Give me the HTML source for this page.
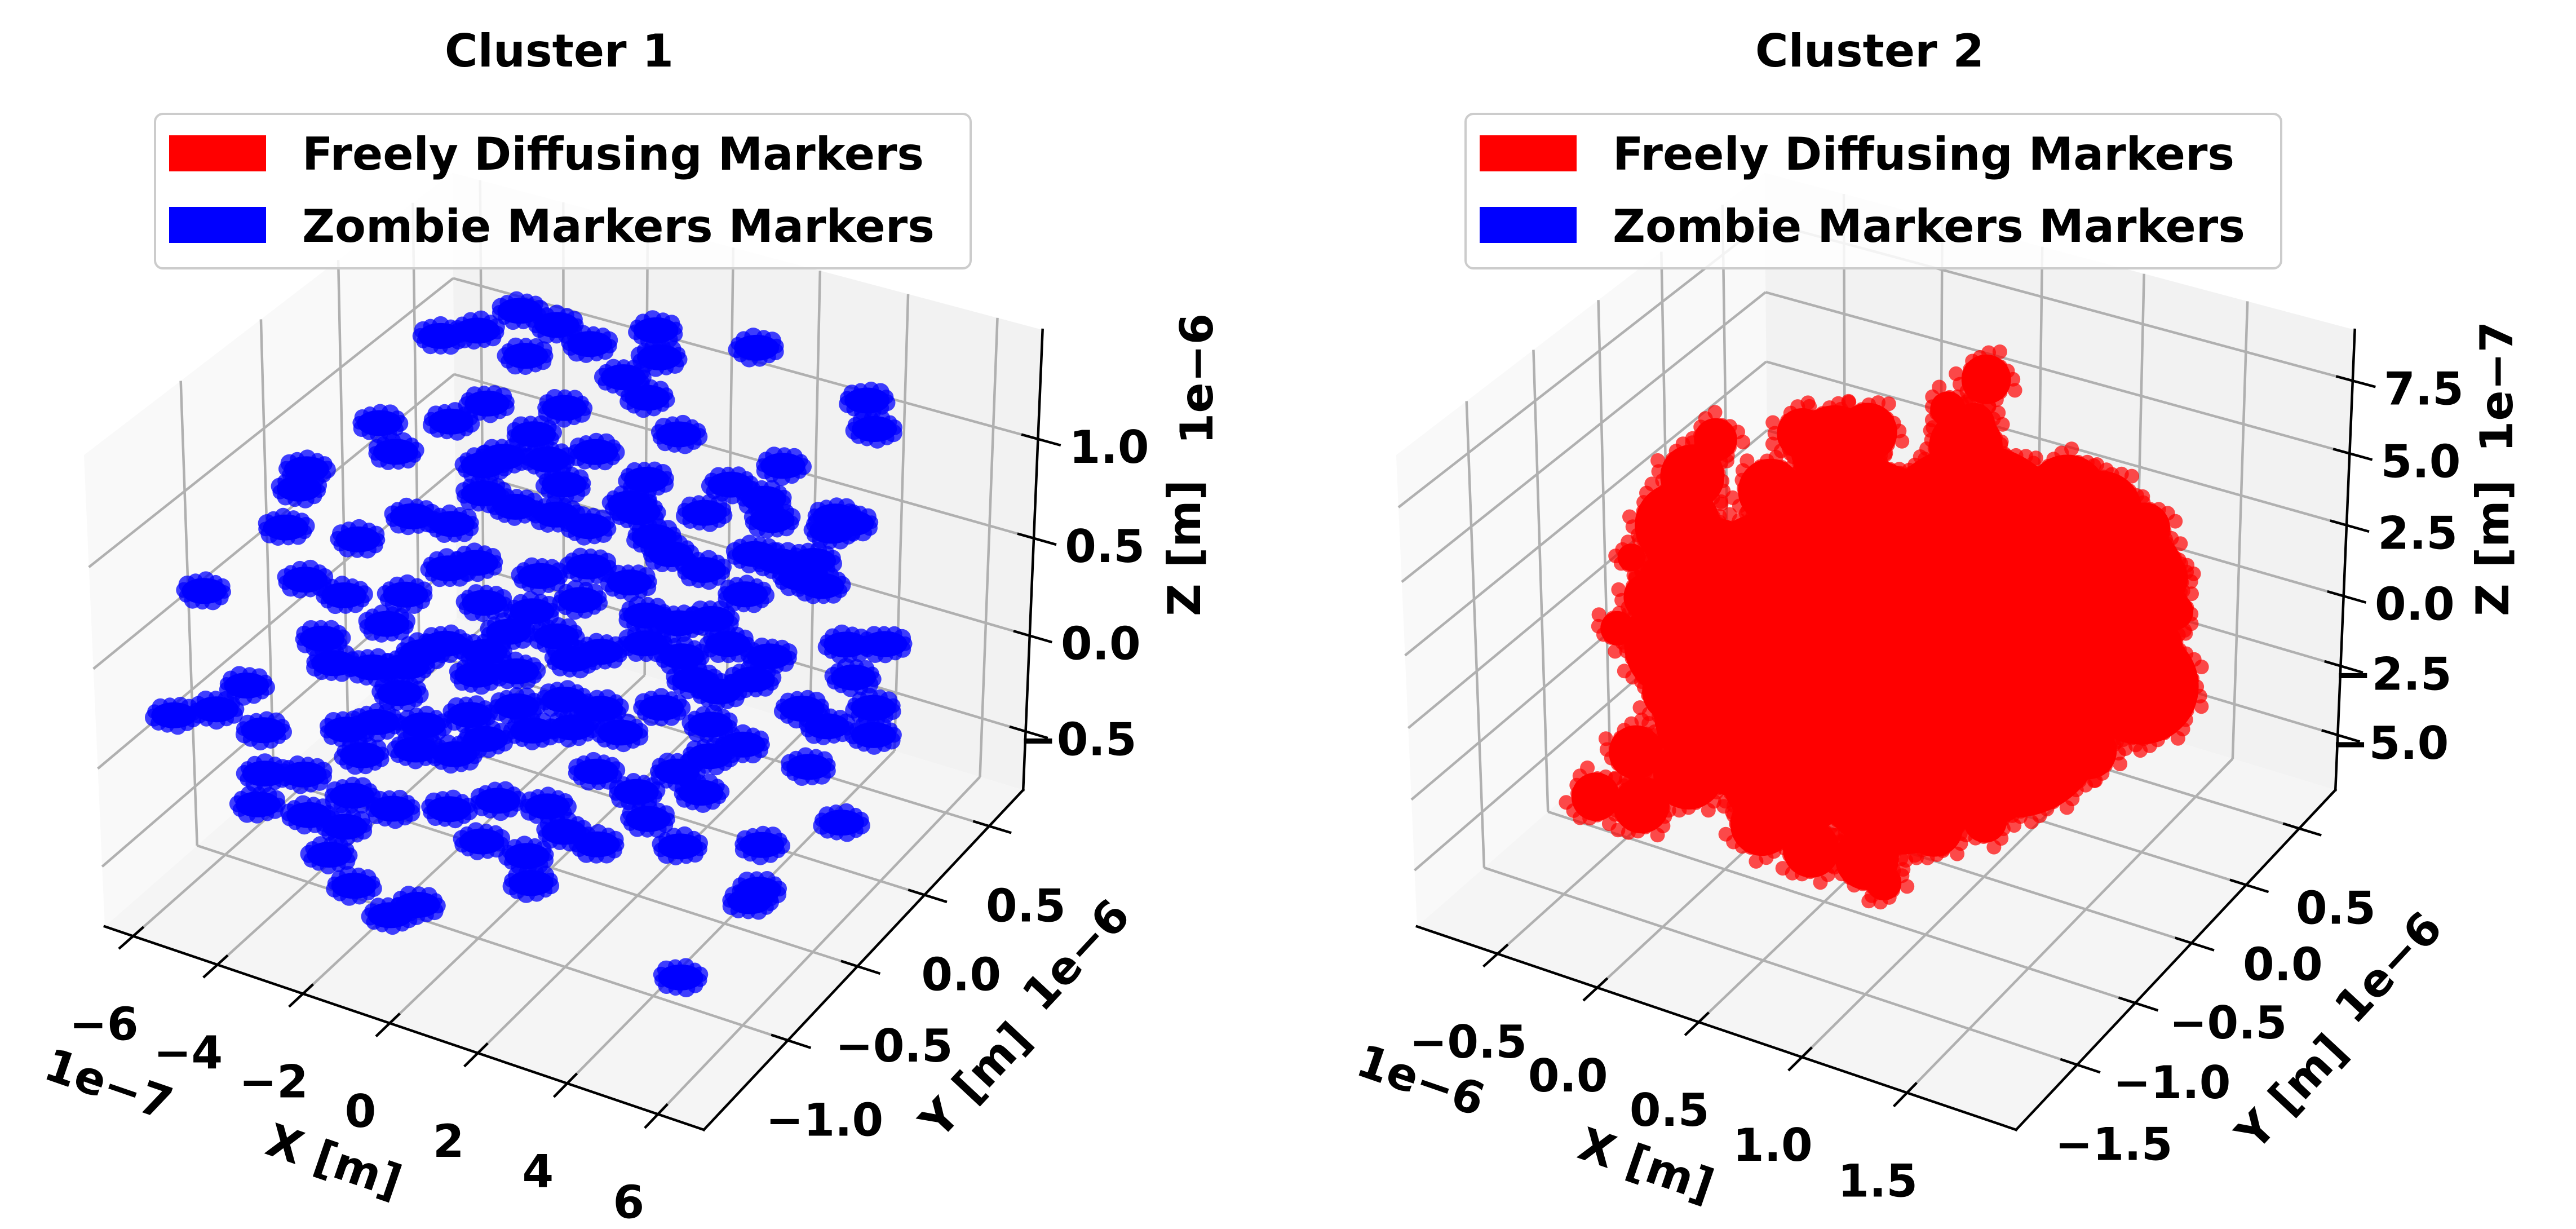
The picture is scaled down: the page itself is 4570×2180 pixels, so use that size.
<!DOCTYPE html>
<html><head><meta charset="utf-8"><style>
html,body{margin:0;padding:0;background:#fff;}
svg{display:block;}
text{font-family:"DejaVu Sans","Liberation Sans",sans-serif;font-weight:bold;font-size:80px;fill:#000;}
</style></head><body>
<svg id="chart" width="4570" height="2180" viewBox="0 0 4570 2180">
<rect x="0" y="0" width="4570" height="2180" fill="#fff"/>
<g id="panel1"></g>
<g id="panel2"></g>
<text x="992" y="118" text-anchor="middle">Cluster 1</text>
<text x="3317" y="118" text-anchor="middle">Cluster 2</text>
<g>
<rect x="275" y="202" width="1447" height="274" rx="14" fill="#fff" fill-opacity="0.85" stroke="#cccccc" stroke-width="4"/>
<rect x="300" y="240" width="172" height="64" fill="#ff0000"/>
<rect x="300" y="367" width="172" height="64" fill="#0000ff"/>
<text x="536" y="301">Freely Diffusing Markers</text>
<text x="536" y="429">Zombie Markers Markers</text>
</g>
<g>
<rect x="2600" y="202" width="1447" height="274" rx="14" fill="#fff" fill-opacity="0.85" stroke="#cccccc" stroke-width="4"/>
<rect x="2625" y="240" width="172" height="64" fill="#ff0000"/>
<rect x="2625" y="367" width="172" height="64" fill="#0000ff"/>
<text x="2861" y="301">Freely Diffusing Markers</text>
<text x="2861" y="429">Zombie Markers Markers</text>
</g>
<text transform="translate(593,2058) rotate(19)" text-anchor="middle" dy="29">X [m]</text>
<text transform="translate(193,1922) rotate(19)" text-anchor="middle" dy="29">1e−7</text>
<text transform="translate(1729,1915) rotate(-47)" text-anchor="middle" dy="29">Y [m]</text>
<text transform="translate(1908,1693) rotate(-47)" text-anchor="middle" dy="29">1e−6</text>
<text transform="translate(2100,972) rotate(-90)" text-anchor="middle" dy="29">Z [m]</text>
<text transform="translate(2122,672) rotate(-90)" text-anchor="middle" dy="29">1e−6</text>
<text transform="translate(2921,2065) rotate(19)" text-anchor="middle" dy="29">X [m]</text>
<text transform="translate(2521,1915) rotate(19)" text-anchor="middle" dy="29">1e−6</text>
<text transform="translate(4064,1936) rotate(-47)" text-anchor="middle" dy="29">Y [m]</text>
<text transform="translate(4236,1715) rotate(-47)" text-anchor="middle" dy="29">1e−6</text>
<text transform="translate(4421,972) rotate(-90)" text-anchor="middle" dy="29">Z [m]</text>
<text transform="translate(4428,686) rotate(-90)" text-anchor="middle" dy="29">1e−7</text>
</svg>
<script>
// ---- Cluster 1 data (x in 1e-7 m, y and z in 1e-6 m) ----
const c1X = [-5.69,-4.8,-3.78,-2.91,-2.13,-0.59,-3.65,-0.5,1.72,-1.34,-0.78,-4.58,-2.73,4.23,4.41,-4.3,-2.63,-3.47,-1.99,-0.04,-3.93,-6.06,-6.25,-6.6,-4.86,-3.56,-2.63,-1.89,-0.41,-0.04,-1.15,0.52,1.82,1.63,2.0,1.17,2.37,3.11,4.41,3.58,5.52,4.78,4.04,3.11,5.71,-5.51,-6.16,-5.23,-3.75,-4.21,-2.73,-1.89,-1.33,-0.78,0.52,0.33,1.45,1.82,2.56,3.3,-0.22,-2.82,-5.78,-5.51,-4.58,-3.75,-3.93,-2.08,-1.15,0.15,0.8,1.82,2.65,2.93,3.67,4.6,6.27,5.36,6.45,6.9,5.17,-4.58,-6.34,-5.32,-4.21,-5.23,-4.49,-3.37,-2.26,-1.15,-0.04,0.8,2.19,3.3,4.23,4.04,5.9,5.52,-4.21,-3.28,-4.86,-3.56,-2.63,-1.89,-0.78,0.15,1.26,2.56,3.3,-1.24,-2.17,0.06,1.17,2.28,2.65,1.63,1.91,2.65,0.7,3.39,0.8,1.82,-4.39,-3.19,-2.35,-2.73,-2.17,-1.33,-0.69,1.91,6.92,4.5,6.27,3.11,6.73,5.25,2.37,5.9,-1.89,-0.22,1.45,4.6,3.95,5.25,4.23,-2.08,-0.59,-3.37,-1.89,3.49,5.34,-1.43];
const c1Y = [0.4,0.4,0.4,0.4,0.4,0.4,0.4,0.4,0.4,0.4,0.4,0.4,0.4,0.4,0.4,-0.4,-0.4,0.4,0.4,0.4,-0.4,-0.4,-0.4,-0.4,-0.4,-0.4,-0.4,-0.4,-0.4,-0.4,-0.4,-0.4,-0.4,-0.4,-0.4,0.4,0.4,-0.4,-0.4,0.4,-0.4,-0.4,-0.4,-0.4,-0.4,-1.2,-0.4,-0.4,-0.4,-0.4,-0.4,-0.4,-0.4,-0.4,-0.4,-0.4,-0.4,-0.4,-0.4,-0.4,-0.4,-0.4,-0.4,-0.4,-0.4,-0.4,-0.4,-0.4,-0.4,-0.4,-0.4,-0.4,-0.4,-0.4,-0.4,-0.4,-0.4,0.2,-0.4,-0.4,0.2,-1.2,-1.2,-1.2,-1.2,-0.4,-0.4,-0.4,-0.4,-0.4,-0.4,-0.4,-0.4,-0.4,-0.4,-0.4,-0.4,-0.4,-1.2,-1.2,-0.4,-0.4,-0.4,-0.4,-0.4,-0.4,-0.4,-0.4,-0.4,-1.2,-1.2,-1.2,-1.2,-1.2,-1.2,-0.4,-0.4,-0.4,-0.4,-1.2,-1.2,-1.2,-1.2,-1.2,-1.2,-1.2,-1.2,-1.2,-1.2,-1.2,-1.2,-0.4,-0.4,-0.4,-1.2,-1.2,-0.4,-0.4,-0.4,-0.4,-0.4,-0.4,0.4,-0.4,-0.4,-0.4,-0.4,-0.4,-0.4,-0.4,-0.4,-0.4];
const c1Z = [0.98,1.06,1.22,1.2,1.15,1.31,1.0,1.18,1.36,1.03,0.96,0.7,0.79,1.25,1.12,1.11,1.22,0.61,0.61,0.82,0.99,0.77,0.66,0.44,0.49,0.69,0.71,1.05,1.17,1.07,0.89,0.9,1.21,1.04,0.94,0.64,0.81,1.13,1.28,0.63,1.05,1.0,0.79,0.85,0.94,0.71,0.2,0.18,0.28,0.1,0.48,0.36,0.25,0.39,0.7,0.52,0.68,0.54,0.55,0.62,0.3,0.09,-0.08,-0.19,-0.15,-0.09,-0.24,-0.02,0.06,0.21,0.29,0.4,0.39,0.29,0.52,0.52,0.69,0.23,0.54,0.42,-0.25,0.3,0.03,0.13,0.1,-0.52,-0.43,-0.37,-0.24,-0.12,-0.01,0.0,0.1,0.09,0.38,0.04,0.26,0.03,-0.12,-0.06,-0.63,-0.51,-0.47,-0.34,-0.22,-0.14,-0.09,-0.2,-0.07,-0.09,-0.09,0.0,0.12,0.17,0.07,-0.37,-0.49,-0.58,-0.33,0.06,-0.11,-0.11,-0.29,-0.26,-0.26,-0.43,-0.55,-0.64,-0.54,-0.24,0.09,-0.44,-0.2,-0.27,0.02,-0.47,0.88,1.22,0.91,0.91,1.07,1.19,0.62,0.95,1.0,0.55,0.58,0.01,0.11,0.27,0.31,1.12];
// ---- Cluster 2 data (x, y in 1e-6 m; z and radius in 1e-7 m) ----
const c2X = [0.59,0.07,1.10,0.39,0.98,-0.16,1.18,0.63,0.07,1.58,1.70,1.78,-0.32,-0.48,-0.48,-0.40,-0.28,0.47,0.41,0.28,0.94,0.31,0.15,0.47,-0.01,1.42,1.58,1.78,1.85,-0.72,-0.64,-0.80,-0.52,-0.72,-0.39,-0.16,0.08,-0.52,0.44,0.68,0.95,1.03,1.27,1.10,1.34,1.54,1.74,1.85,1.93,1.51];
const c2Y = [-0.58,-0.58,-0.58,-0.58,-0.58,-0.58,-0.58,-0.58,-0.58,-0.58,-0.58,-0.58,-0.58,-0.58,-0.58,-0.58,-0.58,0.42,0.42,0.42,-0.58,-0.58,-0.58,-0.58,-0.58,-0.58,-0.58,-0.58,-0.58,-0.58,-0.58,-0.58,-0.58,-0.58,-1.4,-1.4,-1.4,-0.58,-1.4,-1.4,-1.4,-1.4,-1.4,-0.58,-0.58,-0.58,-0.58,-0.58,-0.58,-1.4];
const c2Z = [0.66,0.11,2.32,3.04,4.87,-3.2,-0.88,-3.48,-4.95,2.78,5.27,1.79,0.95,-1.63,2.58,4.44,5.95,6.03,4.35,4.62,8.16,6.8,7.02,7.7,4.73,7.49,7.27,7.13,5.61,0.95,-0.29,-1.75,-3.41,-6.08,-3.67,-3.45,-1.81,0.52,-2.74,-3.07,-2.75,-3.42,-0.96,-3.3,-1.67,-0.97,0.86,3.37,4.66,-0.17];
const c2R = [5.7,4.2,4.2,3.7,3.45,3.2,3.2,3.2,2.47,2.47,1.98,1.98,2.23,1.98,1.49,1.11,0.74,0.86,0.74,0.62,1.23,1.49,0.86,0.99,1.11,1.36,1.36,0.86,0.99,0.49,0.86,0.62,1.11,0.99,0.86,0.99,1.23,1.11,1.11,0.99,1.11,0.62,0.99,1.23,0.99,0.99,1.11,0.86,0.62,0.74];
// ---- Tick values ----
const xTicks1 = [-6,-4,-2,0,2,4,6];
const yTicks1 = [-1.0,-0.5,0.0,0.5];
const zTicks1 = [-0.5,0.0,0.5,1.0];
const xTicks2 = [-0.5,0.0,0.5,1.0,1.5];
const yTicks2 = [-1.5,-1.0,-0.5,0.0,0.5];
const zTicks2 = [-5.0,-2.5,0.0,2.5,5.0,7.5];

const svg = document.getElementById('chart');
const NSU = svg.namespaceURI;
function mk(tag, attrs, parent){
  const el = document.createElementNS(NSU, tag);
  for (const k in attrs) el.setAttribute(k, attrs[k]);
  parent.appendChild(el);
  return el;
}
function fmt(v, d){ const s = v.toFixed(d); return s.replace('-', '\u2212'); }

function makeProj(P){
  const a = 0.5717, h = 0.4287;
  return function(x, y, z){
    const qx = -a + 2*a*(x - P.xlim[0])/(P.xlim[1]-P.xlim[0]);
    const qy = -a + 2*a*(y - P.ylim[0])/(P.ylim[1]-P.ylim[0]);
    const qz = -h + 2*h*(z - P.zlim[0])/(P.zlim[1]-P.zlim[0]);
    const xv = 0.8660*qx + 0.5*qy;
    const yv = -0.25*qx + 0.4330*qy + 0.8660*qz;
    const zv = -10 + 0.4330*qx - 0.75*qy + 0.5*qz;
    return [P.cx + 10652*xv/(-zv), 1116 - 11119*yv/(-zv)];
  };
}
function pts(list){ return list.map(p => p[0].toFixed(1)+','+p[1].toFixed(1)).join(' '); }

function drawAxes(P, g, xT, yT, zT, xd, yd, zd){
  const pr = makeProj(P);
  const [x0,x1] = P.xlim, [y0,y1] = P.ylim, [z0,z1] = P.zlim;
  const pl = mk('polygon', {points: pts([pr(x0,y0,z0),pr(x0,y1,z0),pr(x0,y1,z1),pr(x0,y0,z1)]), fill:'#f9f9f9'}, g);
  
  
  const pb = mk('polygon', {points: pts([pr(x0,y1,z0),pr(x1,y1,z0),pr(x1,y1,z1),pr(x0,y1,z1)]), fill:'#f2f2f2'}, g);
  
  
  const pf = mk('polygon', {points: pts([pr(x0,y0,z0),pr(x1,y0,z0),pr(x1,y1,z0),pr(x0,y1,z0)]), fill:'#f5f5f5'}, g);
  
  
  const grid = mk('g', {stroke:'#b0b0b0', 'stroke-width':4.5, fill:'none'}, g);
  
  
  function seg(p, q, parent){ return mk('line', {x1:p[0],y1:p[1],x2:q[0],y2:q[1]}, parent); }
  xT.forEach(v => {
    const l1 = seg(pr(v,y1,z0), pr(v,y1,z1), grid);
    
    
    const l2 = seg(pr(v,y0,z0), pr(v,y1,z0), grid);
    
    
  });
  yT.forEach(v => {
    const l1 = seg(pr(x0,v,z0), pr(x0,v,z1), grid);
    
    
    const l2 = seg(pr(x0,v,z0), pr(x1,v,z0), grid);
    
    
  });
  zT.forEach(v => {
    const l1 = seg(pr(x0,y0,v), pr(x0,y1,v), grid);
    
    
    const l2 = seg(pr(x0,y1,v), pr(x1,y1,v), grid);
    
    
  });
  const ax = mk('g', {stroke:'#000', 'stroke-width':4.5, fill:'none', 'stroke-linecap':'square'}, g);
  
  
  const xl = seg(pr(x0,y0,z0), pr(x1,y0,z0), ax);
  
  
  const yl = seg(pr(x1,y0,z0), pr(x1,y1,z0), ax);
  
  
  const zl = seg(pr(x1,y1,z0), pr(x1,y1,z1), ax);
  
  
  const xr = x1-x0, yr = y1-y0;
  const labs = mk('g', {}, g);
  
  
  xT.forEach(v => {
    const t = seg(pr(v,y0+0.025*yr,z0), pr(v,y0-0.035*yr,z0), ax);
    
    
    const p = pr(v,y0,z0);
    const tx = mk('text', {x:(p[0]-52).toFixed(1), y:(p[1]+184).toFixed(1), 'text-anchor':'middle'}, labs);
    tx.textContent = fmt(v, xd);
    
    
  });
  yT.forEach(v => {
    const t = seg(pr(x1-0.025*xr,v,z0), pr(x1+0.035*xr,v,z0), ax);
    
    
    const p = pr(x1,v,z0);
    const tx = mk('text', {x:(p[0]+65).toFixed(1), y:(p[1]+169).toFixed(1), 'text-anchor':'middle'}, labs);
    tx.textContent = fmt(v, yd);
    
    
  });
  zT.forEach(v => {
    const t = seg(pr(x1-0.025*xr,y1,v), pr(x1+0.035*xr,y1,v), ax);
    
    
    const p = pr(x1,y1,v);
    const tx = mk('text', {x:(p[0]+197).toFixed(1), y:(p[1]+42).toFixed(1), 'text-anchor':'end'}, labs);
    tx.textContent = fmt(v, zd);
    
    
  });
  return pr;
}

// Panel 1
const P1 = {cx:1015, xlim:[-6.68,7.0], ylim:[-1.58,0.77], zlim:[-0.81,1.54]};
const g1 = document.getElementById('panel1');
const pr1 = drawAxes(P1, g1, xTicks1, yTicks1, zTicks1, 0, 1, 1);
const sc1 = mk('g', {}, g1);


const ord1 = c1X.map((v,i)=>i).sort((i,j)=>c1Y[j]-c1Y[i]);
ord1.forEach(i => {
  const p = pr1(c1X[i], c1Y[i], c1Z[i]);
  const b = mk('g', {fill:'#0000ff'}, sc1);
  
  
  for (let k = 0; k < 12; k++){
    const an = k*Math.PI/6 + i*0.7;
    const rr = 12 + ((k*7 + i*3) % 5);
    const d = mk('circle', {cx:(p[0]+36*Math.cos(an)).toFixed(1), cy:(p[1]+20*Math.sin(an)).toFixed(1), r:rr, 'fill-opacity':0.75}, b);
    
    
  }
  const e = mk('ellipse', {cx:p[0].toFixed(1), cy:p[1].toFixed(1), rx:40, ry:23}, b);
  
  
});

// Panel 2
const P2 = {cx:3343, xlim:[-0.91,2.01], ylim:[-2.01,0.85], zlim:[-7.01,9.23]};
const g2 = document.getElementById('panel2');
const pr2 = drawAxes(P2, g2, xTicks2, yTicks2, zTicks2, 1, 1, 1);
const sc2 = mk('g', {fill:'#ff0000'}, g2);


c2X.forEach((v,i) => {
  const p = pr2(c2X[i], c2Y[i], c2Z[i]);
  const q = pr2(c2X[i], c2Y[i], c2Z[i] + c2R[i]);
  const R = Math.abs(p[1]-q[1]);
  const b = mk('g', {}, sc2);
  
  
  const n = Math.max(8, Math.round(2*Math.PI*R/16));
  for (let k = 0; k < n; k++){
    const an = k*2*Math.PI/n + i;
    const rr = R + ((k*13 + i*5) % 4 - 1.5) * 7;
    const d = mk('circle', {cx:(p[0]+rr*Math.cos(an)).toFixed(1), cy:(p[1]+rr*Math.sin(an)).toFixed(1), r:13, 'fill-opacity':0.7}, b);
    
    
  }
  const c = mk('circle', {cx:p[0].toFixed(1), cy:p[1].toFixed(1), r:R.toFixed(1)}, b);
  
  
});
</script>
</body></html>
